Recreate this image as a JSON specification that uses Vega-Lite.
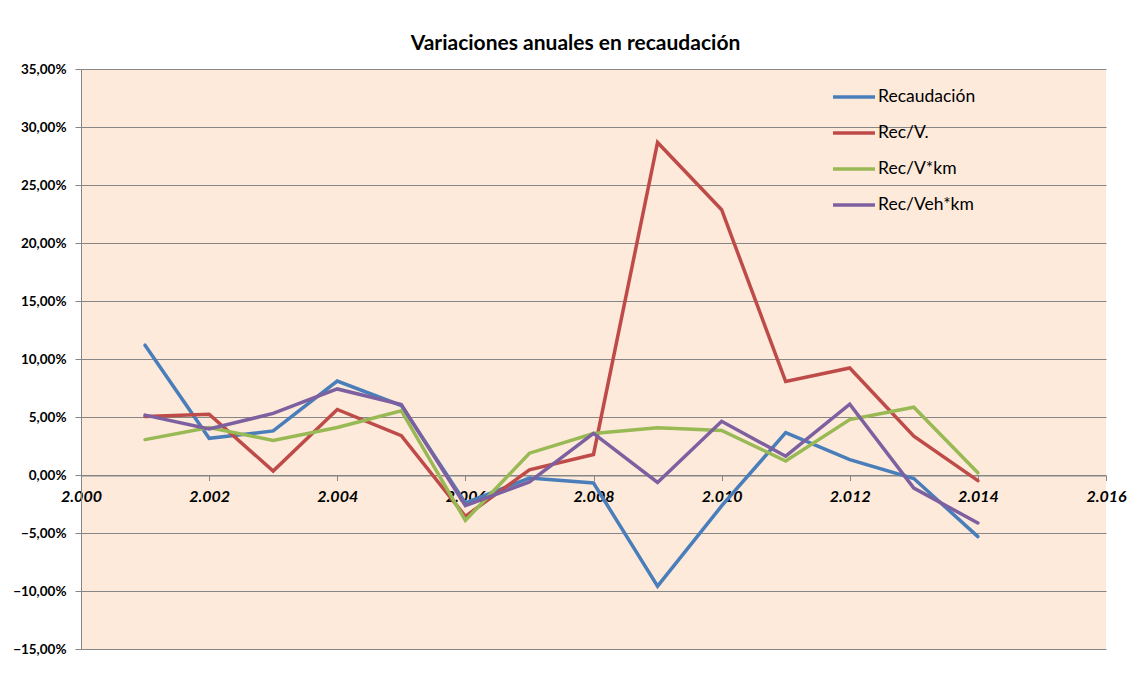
{
  "$schema": "https://vega.github.io/schema/vega-lite/v6.json",
  "autosize": "none",
  "width": 1025,
  "height": 580,
  "padding": {"left": 81, "top": 69, "right": 25, "bottom": 37},
  "background": "white",
  "title": {
    "text": "Variaciones anuales en recaudación",
    "font": "Lato",
    "fontSize": 21,
    "fontWeight": "bold",
    "color": "#000000",
    "anchor": "middle",
    "dx": -18,
    "offset": 8
  },
  "config": {
    "view": {"fill": "#FDEADA", "stroke": null},
    "font": "Lato"
  },
  "data": {
    "values": [
      {"year": 2001, "serie": "Recaudación", "value": 11.19},
      {"year": 2002, "serie": "Recaudación", "value": 3.16},
      {"year": 2003, "serie": "Recaudación", "value": 3.8},
      {"year": 2004, "serie": "Recaudación", "value": 8.1},
      {"year": 2005, "serie": "Recaudación", "value": 5.99},
      {"year": 2006, "serie": "Recaudación", "value": -2.4},
      {"year": 2007, "serie": "Recaudación", "value": -0.26},
      {"year": 2008, "serie": "Recaudación", "value": -0.69},
      {"year": 2009, "serie": "Recaudación", "value": -9.58},
      {"year": 2010, "serie": "Recaudación", "value": -2.67},
      {"year": 2011, "serie": "Recaudación", "value": 3.65},
      {"year": 2012, "serie": "Recaudación", "value": 1.32},
      {"year": 2013, "serie": "Recaudación", "value": -0.3},
      {"year": 2014, "serie": "Recaudación", "value": -5.31},
      {"year": 2001, "serie": "Rec/V.", "value": 5.05},
      {"year": 2002, "serie": "Rec/V.", "value": 5.24},
      {"year": 2003, "serie": "Rec/V.", "value": 0.34},
      {"year": 2004, "serie": "Rec/V.", "value": 5.65},
      {"year": 2005, "serie": "Rec/V.", "value": 3.39},
      {"year": 2006, "serie": "Rec/V.", "value": -3.56},
      {"year": 2007, "serie": "Rec/V.", "value": 0.45},
      {"year": 2008, "serie": "Rec/V.", "value": 1.77},
      {"year": 2009, "serie": "Rec/V.", "value": 28.67},
      {"year": 2010, "serie": "Rec/V.", "value": 22.87},
      {"year": 2011, "serie": "Rec/V.", "value": 8.06},
      {"year": 2012, "serie": "Rec/V.", "value": 9.23},
      {"year": 2013, "serie": "Rec/V.", "value": 3.35},
      {"year": 2014, "serie": "Rec/V.", "value": -0.49},
      {"year": 2001, "serie": "Rec/V*km", "value": 3.05},
      {"year": 2002, "serie": "Rec/V*km", "value": 4.1},
      {"year": 2003, "serie": "Rec/V*km", "value": 2.98},
      {"year": 2004, "serie": "Rec/V*km", "value": 4.1},
      {"year": 2005, "serie": "Rec/V*km", "value": 5.54},
      {"year": 2006, "serie": "Rec/V*km", "value": -3.92},
      {"year": 2007, "serie": "Rec/V*km", "value": 1.88},
      {"year": 2008, "serie": "Rec/V*km", "value": 3.58},
      {"year": 2009, "serie": "Rec/V*km", "value": 4.07},
      {"year": 2010, "serie": "Rec/V*km", "value": 3.84},
      {"year": 2011, "serie": "Rec/V*km", "value": 1.21},
      {"year": 2012, "serie": "Rec/V*km", "value": 4.78},
      {"year": 2013, "serie": "Rec/V*km", "value": 5.84},
      {"year": 2014, "serie": "Rec/V*km", "value": 0.19},
      {"year": 2001, "serie": "Rec/Veh*km", "value": 5.16},
      {"year": 2002, "serie": "Rec/Veh*km", "value": 3.96},
      {"year": 2003, "serie": "Rec/Veh*km", "value": 5.31},
      {"year": 2004, "serie": "Rec/Veh*km", "value": 7.42},
      {"year": 2005, "serie": "Rec/Veh*km", "value": 6.07},
      {"year": 2006, "serie": "Rec/Veh*km", "value": -2.64},
      {"year": 2007, "serie": "Rec/Veh*km", "value": -0.6},
      {"year": 2008, "serie": "Rec/Veh*km", "value": 3.58},
      {"year": 2009, "serie": "Rec/Veh*km", "value": -0.64},
      {"year": 2010, "serie": "Rec/Veh*km", "value": 4.63},
      {"year": 2011, "serie": "Rec/Veh*km", "value": 1.62},
      {"year": 2012, "serie": "Rec/Veh*km", "value": 6.1},
      {"year": 2013, "serie": "Rec/Veh*km", "value": -1.13},
      {"year": 2014, "serie": "Rec/Veh*km", "value": -4.14}
    ]
  },
  "mark": {"type": "line", "strokeWidth": 3.5, "strokeJoin": "miter", "strokeCap": "round"},
  "encoding": {
    "x": {
      "field": "year",
      "type": "quantitative",
      "scale": {"domain": [2000, 2016], "nice": false, "zero": false},
      "axis": {
        "values": [2000, 2002, 2004, 2006, 2008, 2010, 2012, 2014, 2016],
        "labelExpr": "replace(format(datum.value, ','), ',', '.')",
        "title": null,
        "grid": false,
        "offset": -173.5,
        "domainColor": "#868686",
        "domainWidth": 1,
        "tickColor": "#868686",
        "tickSize": 5,
        "labelFont": "Lato",
        "labelFontSize": 16,
        "labelFontWeight": "bold",
        "labelFontStyle": "italic",
        "labelColor": "#000000",
        "labelPadding": 8,
        "labelFlush": false,
        "labelOverlap": false
      }
    },
    "y": {
      "field": "value",
      "type": "quantitative",
      "scale": {"domain": [-15, 35], "nice": false},
      "axis": {
        "values": [-15, -10, -5, 0, 5, 10, 15, 20, 25, 30, 35],
        "labelExpr": "replace(format(datum.value, '.2f'), '.', ',') + '%'",
        "title": null,
        "grid": true,
        "gridColor": "#868686",
        "gridWidth": 1,
        "domainColor": "#868686",
        "domainWidth": 1,
        "tickColor": "#868686",
        "tickSize": 6,
        "labelFont": "Lato",
        "labelFontSize": 13.5,
        "labelFontWeight": "bold",
        "labelColor": "#000000",
        "labelPadding": 9,
        "labelFlush": false
      }
    },
    "color": {
      "field": "serie",
      "type": "nominal",
      "scale": {
        "domain": ["Recaudación", "Rec/V.", "Rec/V*km", "Rec/Veh*km"],
        "range": ["#4A7EBB", "#BE4B48", "#98B954", "#7D60A0"]
      },
      "legend": {
        "title": null,
        "orient": "none",
        "legendX": 750,
        "legendY": 5,
        "symbolType": "stroke",
        "symbolSize": 1764,
        "symbolStrokeWidth": 3.5,
        "labelFont": "Lato",
        "labelFontSize": 17.5,
        "labelColor": "#000000",
        "labelOffset": 1,
        "rowPadding": 4
      }
    }
  }
}
